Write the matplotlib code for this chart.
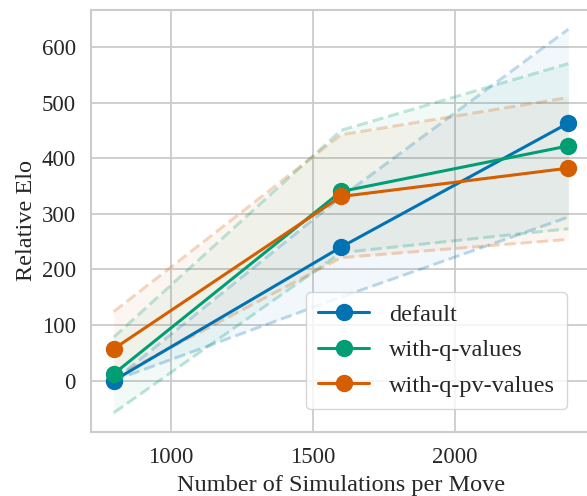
import numpy as np
import matplotlib
matplotlib.use('Agg')
import matplotlib.pyplot as plt
import seaborn as sns

# Elo vs simulation budget, mean with confidence bounds
sims = [800, 1600, 2400]

default_mean = [0, 240, 463]
default_lo = [0, 150, 294]
default_hi = [0, 330, 632]

q_mean = [12, 340, 422]
q_lo = [-58, 230, 273]
q_hi = [78, 450, 570]

qpv_mean = [57, 331, 382]
qpv_lo = [5, 221, 254]
qpv_hi = [124, 442, 509]

labels = ['default', 'with-q-values', 'with-q-pv-values']
colors = ['#0173b2', '#029e73', '#d55e00']

sns.set_theme(style='whitegrid')
plt.rcParams['font.family'] = ['Liberation Serif', 'DejaVu Serif']
plt.rcParams['text.color'] = '.15'
plt.rcParams['axes.labelcolor'] = '.15'
plt.rcParams['xtick.color'] = '.15'
plt.rcParams['ytick.color'] = '.15'

fig = plt.figure(figsize=(5.87, 4.96), dpi=100)
ax = fig.add_axes([0.155, 0.129, 0.852, 0.851])

series = [(default_mean, default_lo, default_hi),
          (q_mean, q_lo, q_hi),
          (qpv_mean, qpv_lo, qpv_hi)]

for (mean, lo, hi), lab, col in zip(series, labels, colors):
    ax.fill_between(sims, lo, hi, color=col, alpha=0.05, linewidth=0)
    ax.plot(sims, lo, '--', color=col, alpha=0.25, linewidth=2.2)
    ax.plot(sims, hi, '--', color=col, alpha=0.25, linewidth=2.2)

for (mean, lo, hi), lab, col in zip(series, labels, colors):
    ax.plot(sims, mean, 'o-', color=col, linewidth=2.2, markersize=11.5, label=lab)

ax.set_xticks([1000, 1500, 2000])
ax.set_yticks([0, 100, 200, 300, 400, 500, 600])
ax.tick_params(labelsize=16.5, pad=5)
ax.set_xlabel('Number of Simulations per Move', fontsize=17.5, labelpad=5)
ax.set_ylabel('Relative Elo', fontsize=17.5, labelpad=3)
for s in ax.spines.values():
    s.set_color('#cccccc')
    s.set_linewidth(1.5)
ax.grid(True, color='#cccccc', linewidth=1.3)

ax.legend(loc='lower right', fontsize=17.5, frameon=True, edgecolor='#cccccc',
          bbox_to_anchor=(0.976, 0.026), handlelength=2.1, handletextpad=0.8,
          labelspacing=0.55, borderpad=0.5)

fig.savefig('out.png', dpi=100)
